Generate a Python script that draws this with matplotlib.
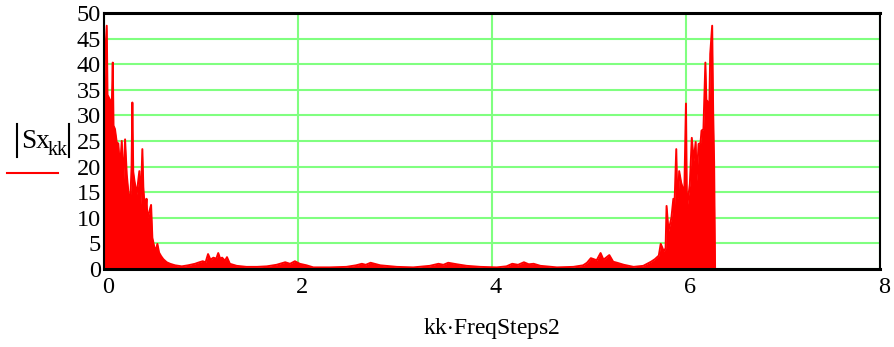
import numpy as np
import matplotlib
matplotlib.use("Agg")
from matplotlib import pyplot as plt
from matplotlib.lines import Line2D
from matplotlib.transforms import ScaledTranslation

plt.rcParams['font.family'] = ['Liberation Serif', 'DejaVu Serif']
plt.rcParams['mathtext.fontset'] = 'custom'
plt.rcParams['mathtext.rm'] = 'Liberation Serif'
plt.rcParams['mathtext.it'] = 'Liberation Serif:italic'

# spectrum magnitude |Sx_kk| against kk*FreqSteps2 (rad)
freq = [0.000, 0.013, 0.031, 0.039, 0.065, 0.082, 0.093, 0.101, 0.116, 0.134,
        0.150, 0.168, 0.186, 0.202, 0.220, 0.237, 0.254, 0.271, 0.287, 0.295,
        0.304, 0.316, 0.340, 0.354, 0.367, 0.381, 0.398, 0.408, 0.415, 0.433,
        0.441, 0.450, 0.467, 0.488, 0.501, 0.522, 0.539, 0.553, 0.570, 0.591,
        0.614, 0.649, 0.684, 0.735, 0.804, 0.869, 0.941,
        0.97, 1.02, 1.05, 1.075, 1.10, 1.13, 1.16, 1.18, 1.20, 1.22,
        1.25, 1.27, 1.30, 1.37, 1.47, 1.58, 1.68, 1.78, 1.87, 1.92,
        1.97, 2.02, 2.09, 2.16, 2.33, 2.50, 2.60, 2.66, 2.70, 2.75,
        2.85, 3.02, 3.19, 3.36, 3.45, 3.50, 3.55, 3.64, 3.74, 3.88,
        4.05, 4.15, 4.21, 4.27, 4.33, 4.38, 4.43, 4.50, 4.67, 4.84,
        4.94, 4.98, 5.02, 5.08, 5.12, 5.15, 5.17, 5.21, 5.25, 5.29,
        5.36, 5.46, 5.56, 5.64, 5.68, 5.72,
        5.74, 5.77, 5.79, 5.80, 5.82, 5.85, 5.87, 5.88, 5.90, 5.91,
        5.92, 5.93, 5.95, 5.97, 5.98, 6.00, 6.01, 6.04, 6.06, 6.08,
        6.10, 6.11, 6.13, 6.15, 6.16, 6.18, 6.20, 6.21, 6.22, 6.24,
        6.25, 6.27, 6.28, 6.29, 6.30]
mag = [31.0, 41.0, 47.5, 34.0, 33.0, 31.0, 40.3, 28.0, 27.3, 24.7,
       24.5, 19.8, 25.0, 16.6, 25.3, 18.5, 15.0, 12.0, 20.0, 32.5,
       19.0, 17.3, 14.6, 17.0, 19.1, 12.6, 23.4, 16.0, 14.0, 12.0,
       13.7, 10.0, 11.0, 12.5, 6.1, 4.2, 3.8, 4.9, 3.2, 2.5,
       1.9, 1.3, 1.0, 0.7, 0.5, 0.7, 1.0,
       1.2, 1.5, 1.3, 2.9, 1.8, 2.2, 2.0, 3.1, 2.0, 2.2,
       1.6, 2.3, 1.0, 0.6, 0.4, 0.4, 0.5, 0.8, 1.3, 1.0,
       1.5, 1.0, 0.7, 0.3, 0.3, 0.4, 0.7, 1.0, 0.8, 1.2,
       0.7, 0.4, 0.3, 0.6, 1.0, 0.8, 1.2, 0.9, 0.6, 0.4,
       0.3, 0.5, 1.0, 0.8, 1.3, 0.9, 1.0, 0.6, 0.3, 0.4,
       0.7, 1.2, 2.1, 1.7, 3.1, 1.8, 2.1, 2.7, 1.4, 1.2,
       0.8, 0.4, 0.6, 1.4, 1.9, 2.6,
       4.9, 3.5, 4.0, 12.3, 7.4, 10.0, 13.7, 11.4, 23.4, 14.0,
       13.9, 19.1, 16.9, 15.6, 12.0, 32.3, 11.7, 16.6, 25.6, 21.1,
       24.8, 17.2, 24.4, 24.6, 27.0, 27.3, 40.3, 33.0, 32.8, 30.9,
       42.0, 47.5, 30.9, 20.8, 0.0]

xticks = [0, 2, 4, 6, 8]
yticks = [0, 5, 10, 15, 20, 25, 30, 35, 40, 45, 50]

W, H = 895, 347
fig = plt.figure(figsize=(W / 100, H / 100), dpi=100)
ax = fig.add_axes([0.1159, 0.225, 0.8674, 0.7378])

ax.fill_between(freq, 0, mag, color='#ff0000', lw=0)
ax.plot(freq, mag, color='#ff0000', lw=1.4)

ax.set_xlim(0, 8)
ax.set_ylim(0, 50)
ax.set_xticks(xticks)
ax.set_yticks(yticks)
ax.set_axisbelow(True)
ax.grid(True, color='#80ff80', lw=1.5)
ax.tick_params(length=0, labelsize=17.5)
ax.tick_params(axis='y', pad=2)
ax.tick_params(axis='x', labelbottom=False)
# x labels sit a little right of their grid lines
shift = ScaledTranslation(4 / 100, -8 / 100, fig.dpi_scale_trans)
for v in xticks:
    ax.text(v, 0, str(v), fontsize=17.5, ha='center', va='top',
            transform=ax.get_xaxis_transform() + shift)
for s in ax.spines.values():
    s.set_color('black')
    s.set_linewidth(1.5)
ax.spines['top'].set_linewidth(2.2)
ax.spines['bottom'].set_linewidth(2.2)

ax.set_xlabel(r'kk$\cdot$FreqSteps2', fontsize=17, labelpad=34)

# y label: |Sx_kk| with the trace legend line underneath
def px(x, y):
    return x / W, 1 - y / H

fig.text(*px(21, 147.5), 'Sx', fontsize=19.5, ha='left', va='baseline')
fig.text(*px(47.5, 155), 'kk', fontsize=14.5, ha='left', va='baseline')
for xb in (16.7, 69.0):
    fig.add_artist(Line2D([xb / W, xb / W], [1 - 124 / H, 1 - 157 / H],
                          color='black', lw=1.5))
fig.add_artist(Line2D([7 / W, 58 / W], [1 - 173 / H, 1 - 173 / H],
                      color='#ff0000', lw=1.5))

plt.savefig('out.png', dpi=100)
